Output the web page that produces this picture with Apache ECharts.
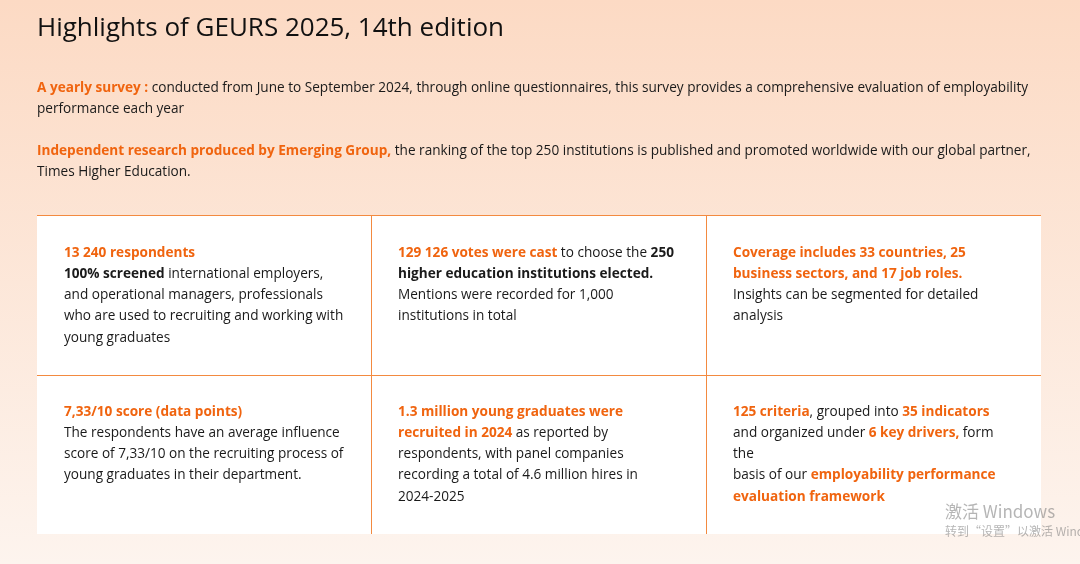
<!DOCTYPE html>
<html><head><meta charset="utf-8">
<script src="https://cdn.jsdelivr.net/npm/echarts@6/dist/echarts.min.js"></script>
<style>html,body{margin:0;padding:0;background:#fff;}#main{width:1080px;height:564px;}</style>
</head><body><div id="main"></div>
<script>
// ---- content ----
const titleText = 'Highlights of GEURS 2025, 14th edition';
const introLines = [
  ['{o|A yearly survey :} conducted from June to September 2024, through online questionnaires, this survey provides a comprehensive evaluation of employability', 'performance each year'],
  ['{o|Independent research produced by Emerging Group,} the ranking of the top 250 institutions is published and promoted worldwide with our global partner,', 'Times Higher Education.']
];
const cellLines = [
  ['{o|13 240 respondents}', '{b|100% screened} international employers,', 'and operational managers, professionals', 'who are used to recruiting and working with', 'young graduates'],
  ['{o|129 126 votes were cast} to choose the {b|250}', '{b|higher education institutions elected.}', 'Mentions were recorded for 1,000', 'institutions in total'],
  ['{o|Coverage includes 33 countries, 25}', '{o|business sectors, and 17 job roles.}', 'Insights can be segmented for detailed', 'analysis'],
  ['{o|7,33/10 score (data points)}', 'The respondents have an average influence', 'score of 7,33/10 on the recruiting process of', 'young graduates in their department.'],
  ['{o|1.3 million young graduates were}', '{o|recruited in 2024} as reported by', 'respondents, with panel companies', 'recording a total of 4.6 million hires in', '2024-2025'],
  ['{o|125 criteria}, grouped into {o|35 indicators}', 'and organized under {o|6 key drivers,} form', 'the', 'basis of our {o|employability performance}', '{o|evaluation framework}']
];
const watermarkLines = ['激活 Windows', '转到“设置”以激活 Windows。'];

// ---- style ----
const FONT = '"Open Sans", "Noto Sans", sans-serif';
const BODY = 13.6;
const ORANGE = '#f0640f';
const DARK = '#1a1a1a';
const LINE = '#f38a40';

const rich = {
  o: { fill: ORANGE, fontWeight: 'bold', fontSize: BODY, fontFamily: FONT },
  b: { fill: DARK, fontWeight: 'bold', fontSize: BODY, fontFamily: FONT }
};
function textLine(str, x, y) {
  return { type: 'text', x: x, y: y, silent: true,
    style: { text: str, fill: DARK, fontSize: BODY, fontFamily: FONT, verticalAlign: 'middle', align: 'left', rich: rich } };
}

const T = { left: 37, right: 1041, top: 215, bottom: 534, mid: 375, cols: [37, 371, 706] };
const elements = [];
// background
elements.push({ type: 'rect', shape: { x: 0, y: 0, width: 1080, height: 564 }, silent: true,
  style: { fill: new echarts.graphic.LinearGradient(0, 0, 0, 1, [
    { offset: 0, color: '#fcdac4' }, { offset: 1, color: '#fdf4ee' }]) } });
// title
elements.push({ type: 'text', x: 37, y: 29, silent: true,
  style: { text: titleText, fill: '#111', fontSize: 26, fontFamily: FONT, verticalAlign: 'middle' } });
// intro
const introY = [[88, 109], [151, 172]];
introLines.forEach((p, i) => p.forEach((l, j) => elements.push(textLine(l, 37, introY[i][j]))));
// table
elements.push({ type: 'rect', shape: { x: T.left, y: T.top, width: T.right - T.left, height: T.bottom - T.top }, silent: true, style: { fill: '#fff' } });
elements.push({ type: 'line', shape: { x1: T.left, y1: T.top + 0.5, x2: T.right, y2: T.top + 0.5 }, silent: true, style: { stroke: LINE, lineWidth: 1 } });
elements.push({ type: 'line', shape: { x1: T.left, y1: T.mid + 0.5, x2: T.right, y2: T.mid + 0.5 }, silent: true, style: { stroke: LINE, lineWidth: 1 } });
[T.cols[1], T.cols[2]].forEach(cx => elements.push({ type: 'line', shape: { x1: cx + 0.5, y1: T.top, x2: cx + 0.5, y2: T.bottom }, silent: true, style: { stroke: LINE, lineWidth: 1 } }));
const rowFirst = [253, 412];
const LH = 21.2;
cellLines.forEach((lines, k) => {
  const r = Math.floor(k / 3), c = k % 3;
  const x = T.cols[c] + 27;
  lines.forEach((l, j) => elements.push(textLine(l, x, rowFirst[r] + j * LH)));
});
// watermark
elements.push({ type: 'text', x: 945, y: 512, silent: true, style: { text: watermarkLines[0], fill: 'rgba(120,120,120,0.55)', fontSize: 17, fontFamily: '"Noto Sans CJK SC", sans-serif', verticalAlign: 'middle' } });
elements.push({ type: 'text', x: 945, y: 531, silent: true, style: { text: watermarkLines[1], fill: 'rgba(120,120,120,0.55)', fontSize: 12, fontFamily: '"Noto Sans CJK SC", sans-serif', verticalAlign: 'middle' } });

const chart = echarts.init(document.getElementById('main'));
chart.setOption({ animation: false, graphic: { elements: elements } });
</script></body></html>
